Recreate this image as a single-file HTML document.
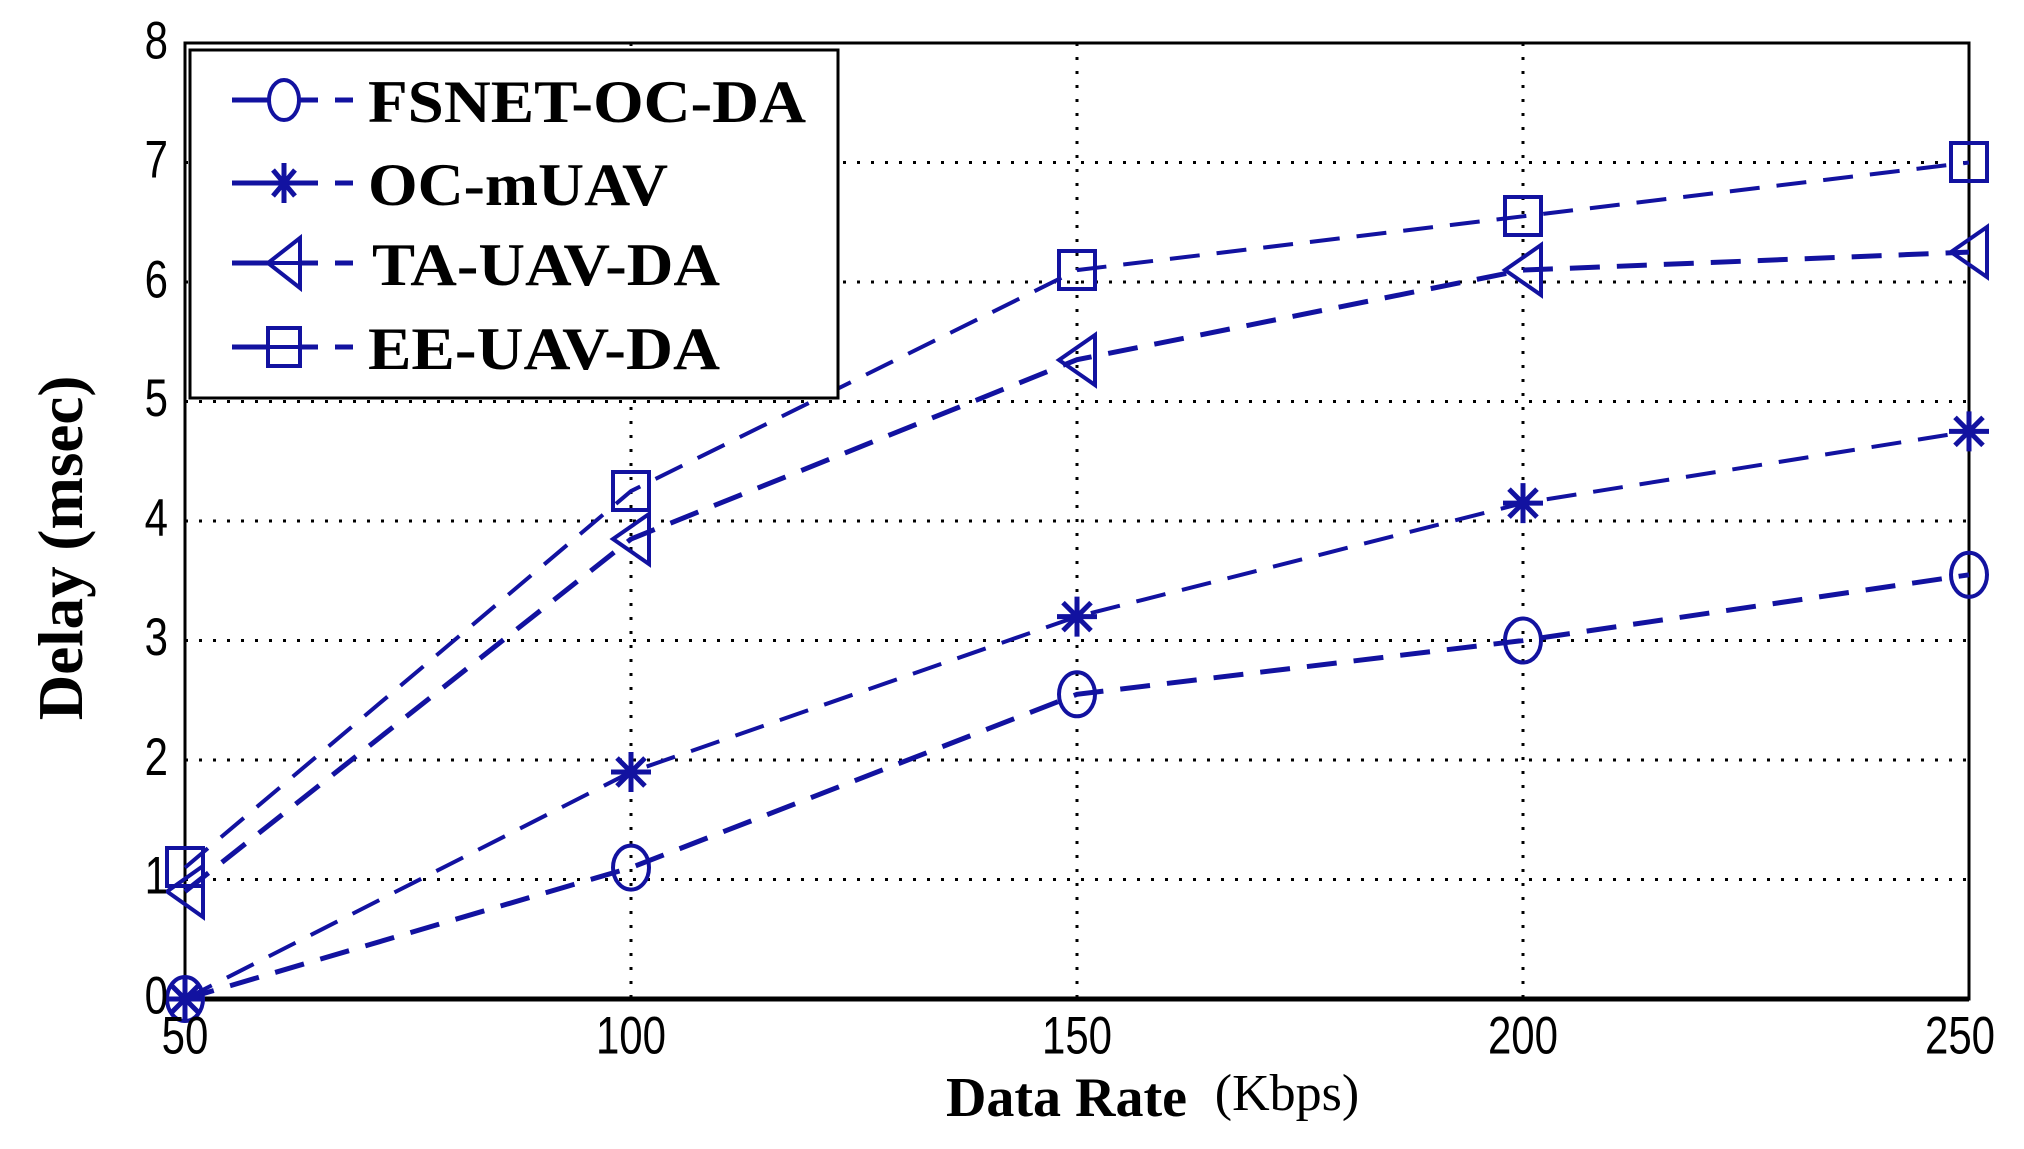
<!DOCTYPE html>
<html><head><meta charset="utf-8"><style>body{margin:0;background:#fff}svg{display:block}</style></head>
<body>
<svg width="2024" height="1149" viewBox="0 0 2024 1149" xmlns="http://www.w3.org/2000/svg">
<rect width="2024" height="1149" fill="#fff"/>
<g stroke="#000" stroke-width="3" stroke-dasharray="3 11">
<line x1="631" y1="43" x2="631" y2="999"/><line x1="1077" y1="43" x2="1077" y2="999"/><line x1="1523" y1="43" x2="1523" y2="999"/>
<line x1="185" y1="879.5" x2="1969" y2="879.5"/><line x1="185" y1="760" x2="1969" y2="760"/><line x1="185" y1="640.5" x2="1969" y2="640.5"/><line x1="185" y1="521" x2="1969" y2="521"/><line x1="185" y1="401.5" x2="1969" y2="401.5"/><line x1="185" y1="282" x2="1969" y2="282"/><line x1="185" y1="162.5" x2="1969" y2="162.5"/>
</g>
<rect x="185" y="43" width="1784" height="956" fill="none" stroke="#000" stroke-width="3"/>
<line x1="185" y1="999" x2="1969" y2="999" stroke="#000" stroke-width="5"/>
<g fill="none" stroke="#1212a0" stroke-width="5" stroke-dasharray="30 17">
<polyline points="185,999 631,867.6 1077,694.3 1523,640.5 1969,574.8"/>
<polyline points="185,999 631,772 1077,616.6 1523,503.1 1969,431.4" stroke-width="4"/>
<polyline points="185,891.5 631,539 1077,359.7 1523,270.1 1969,252.1"/>
<polyline points="185,867.6 631,491.1 1077,270.1 1523,216.3 1969,162.5" stroke-width="4"/>
</g>
<g fill="none" stroke="#1212a0" stroke-width="4">
<ellipse cx="185" cy="999" rx="18" ry="22"/><ellipse cx="631" cy="867.6" rx="18" ry="22"/><ellipse cx="1077" cy="694.3" rx="18" ry="22"/><ellipse cx="1523" cy="640.5" rx="18" ry="22"/><ellipse cx="1969" cy="574.8" rx="18" ry="22"/>
<rect x="167" y="848" width="36" height="38"/><rect x="613" y="472" width="36" height="38"/><rect x="1059" y="251" width="36" height="38"/><rect x="1505" y="197" width="36" height="38"/><rect x="1951" y="143" width="36" height="38"/>
<path d="M203,866 L167,891.5 L203,917 Z M649,514 L613,539 L649,564 Z M1095,335 L1059,360 L1095,385 Z M1541,245 L1505,270 L1541,295 Z M1987,227 L1951,252 L1987,277 Z"/>
</g>
<g stroke="#1212a0" stroke-width="5">
<path d="M165,999h40M185,979v40M171,985l28,28M199,985l-28,28"/>
<path d="M611,772h40M631,752v40M617,758l28,28M645,758l-28,28"/>
<path d="M1057,616.6h40M1077,596.6v40M1063,602.6l28,28M1091,602.6l-28,28"/>
<path d="M1503,503.1h40M1523,483.1v40M1509,489.1l28,28M1537,489.1l-28,28"/>
<path d="M1949,431.4h40M1969,411.4v40M1955,417.4l28,28M1983,417.4l-28,28"/>
</g>
<rect x="190" y="50" width="648" height="348" fill="#fff" stroke="#000" stroke-width="3"/>
<g stroke="#1212a0" stroke-width="5">
<line x1="232" y1="100" x2="268" y2="100"/><line x1="300" y1="100" x2="318" y2="100"/><line x1="335" y1="100" x2="353" y2="100"/>
<line x1="232" y1="183" x2="268" y2="183"/><line x1="300" y1="183" x2="318" y2="183"/><line x1="335" y1="183" x2="353" y2="183"/>
<line x1="232" y1="263" x2="268" y2="263"/><line x1="300" y1="263" x2="318" y2="263"/><line x1="335" y1="263" x2="353" y2="263"/>
<line x1="232" y1="347" x2="268" y2="347"/><line x1="300" y1="347" x2="318" y2="347"/><line x1="335" y1="347" x2="353" y2="347"/>
</g>
<g fill="none" stroke="#1212a0" stroke-width="4">
<ellipse cx="284" cy="100" rx="15" ry="20"/>
<path d="M268,183h32M284,163v40M273,170l22,26M295,170l-22,26" stroke-width="5"/>
<path d="M300,238 L268,263 L300,288 Z M270,263h28"/>
<rect x="268" y="328" width="32" height="38"/><path d="M270,347h28"/>
</g>
<g font-family="Liberation Serif, serif" font-weight="bold" font-size="60" fill="#000">
<text x="368" y="122" textLength="438" lengthAdjust="spacingAndGlyphs">FSNET-OC-DA</text>
<text x="368" y="205" textLength="300" lengthAdjust="spacingAndGlyphs">OC-mUAV</text>
<text x="372" y="285" textLength="348" lengthAdjust="spacingAndGlyphs">TA-UAV-DA</text>
<text x="368" y="369" textLength="352" lengthAdjust="spacingAndGlyphs">EE-UAV-DA</text>
</g>
<g font-family="Liberation Sans, sans-serif" font-size="42" fill="#000" text-anchor="end" transform="scale(1,1.25)">
<text x="168" y="47">8</text><text x="168" y="142">7</text><text x="168" y="238">6</text><text x="168" y="333">5</text><text x="168" y="429">4</text><text x="168" y="524">3</text><text x="168" y="620">2</text><text x="168" y="715">1</text><text x="168" y="811">0</text>
</g>
<g font-family="Liberation Sans, sans-serif" font-size="42" fill="#000" text-anchor="middle" transform="scale(1,1.25)">
<text x="185" y="843">50</text><text x="631" y="843">100</text><text x="1077" y="843">150</text><text x="1523" y="843">200</text><text x="1960" y="843">250</text>
</g>
<text x="1187" y="1116" font-family="Liberation Serif, serif" font-weight="bold" font-size="56" text-anchor="end">Data Rate</text>
<text x="1287" y="1110" font-family="Liberation Serif, serif" font-size="52" text-anchor="middle">(Kbps)</text>
<text transform="translate(82,548) rotate(-90)" font-family="Liberation Serif, serif" font-weight="bold" font-size="63" text-anchor="middle">Delay (msec)</text>
</svg>
</body></html>
